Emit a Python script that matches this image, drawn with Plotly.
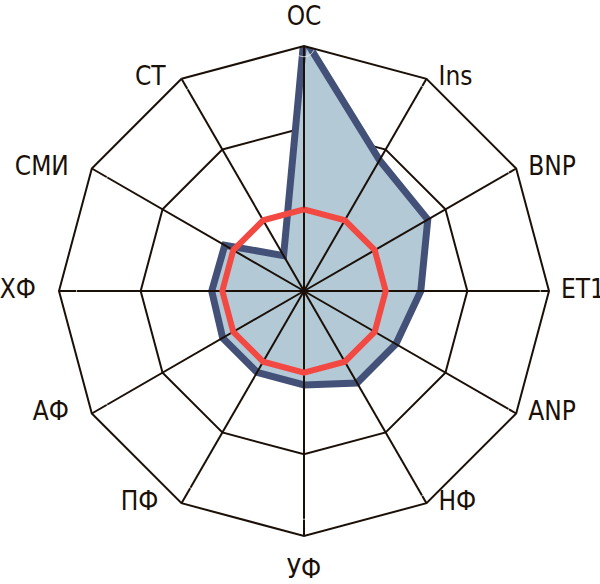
import plotly.graph_objects as go

categories = ["ОС", "Ins", "BNP", "ET1", "ANP", "НФ", "УФ", "ПФ", "АФ", "ХФ", "СМИ", "СТ"]
patient_values = [3.1, 1.85, 1.75, 1.43, 1.3, 1.3, 1.15, 1.15, 1.15, 1.13, 1.12, 0.5]
reference_values = [1.0] * 12
r_max = 3
ring_values = [1, 2, 3]

ink = "#1a1008"

fig = go.Figure()

# patient profile (filled)
fig.add_trace(go.Scatterpolar(
    r=patient_values + patient_values[:1],
    theta=categories + categories[:1],
    mode="lines",
    fill="toself",
    fillcolor="#b3c9d6",
    line=dict(color="#435178", width=7),
    hoverinfo="skip",
))

# spokes drawn above the fill
spoke_r, spoke_t = [], []
for c in categories:
    spoke_r += [0, r_max, None]
    spoke_t += [c, c, None]
fig.add_trace(go.Scatterpolar(
    r=spoke_r, theta=spoke_t, mode="lines",
    line=dict(color=ink, width=2), connectgaps=False, hoverinfo="skip",
))

# reference profile
fig.add_trace(go.Scatterpolar(
    r=reference_values + reference_values[:1],
    theta=categories + categories[:1],
    mode="lines",
    line=dict(color="#f24a43", width=6),
    hoverinfo="skip",
))

# category labels placed just outside the outer ring
n = len(categories)
positions, pads = [], []
for i in range(n):
    if i == 0:
        positions.append("top center"); pads.append(14.5)
    elif i == n // 2:
        positions.append("bottom center"); pads.append(22)
    elif i < n // 2:
        positions.append("middle right"); pads.append(12)
    else:
        positions.append("middle left"); pads.append(23 if i != n - 1 else 16)
marker_sizes = [1.6 * (p - 1) for p in pads]

fig.add_trace(go.Scatterpolar(
    r=[r_max] * n, theta=categories, text=categories,
    mode="markers+text", textposition=positions,
    marker=dict(size=marker_sizes, color="rgba(0,0,0,0)"),
    textfont=dict(size=26, color=ink,
                  family="DejaVu Sans Condensed, Liberation Sans Narrow, sans-serif"),
    cliponaxis=False, hoverinfo="skip",
))

fig.update_layout(
    width=600, height=584,
    margin=dict(l=59, r=51, t=46, b=48),
    paper_bgcolor="white",
    showlegend=False,
    font=dict(family="DejaVu Sans Condensed, Liberation Sans Narrow, sans-serif", color=ink),
    polar=dict(
        bgcolor="white",
        gridshape="linear",
        domain=dict(x=[0, 1], y=[0, 1]),
        radialaxis=dict(
            range=[0, r_max], tickvals=ring_values, showticklabels=False, ticks="",
            showline=False, showgrid=True, gridcolor=ink, gridwidth=2,
        ),
        angularaxis=dict(
            categoryorder="array", categoryarray=categories,
            direction="clockwise", rotation=90,
            showgrid=False, showline=True, linecolor=ink, linewidth=2,
            ticks="", showticklabels=False,
        ),
    ),
)

fig.write_html("out.html", config={"displayModeBar": False},
               post_script="document.body.style.margin='0';")
